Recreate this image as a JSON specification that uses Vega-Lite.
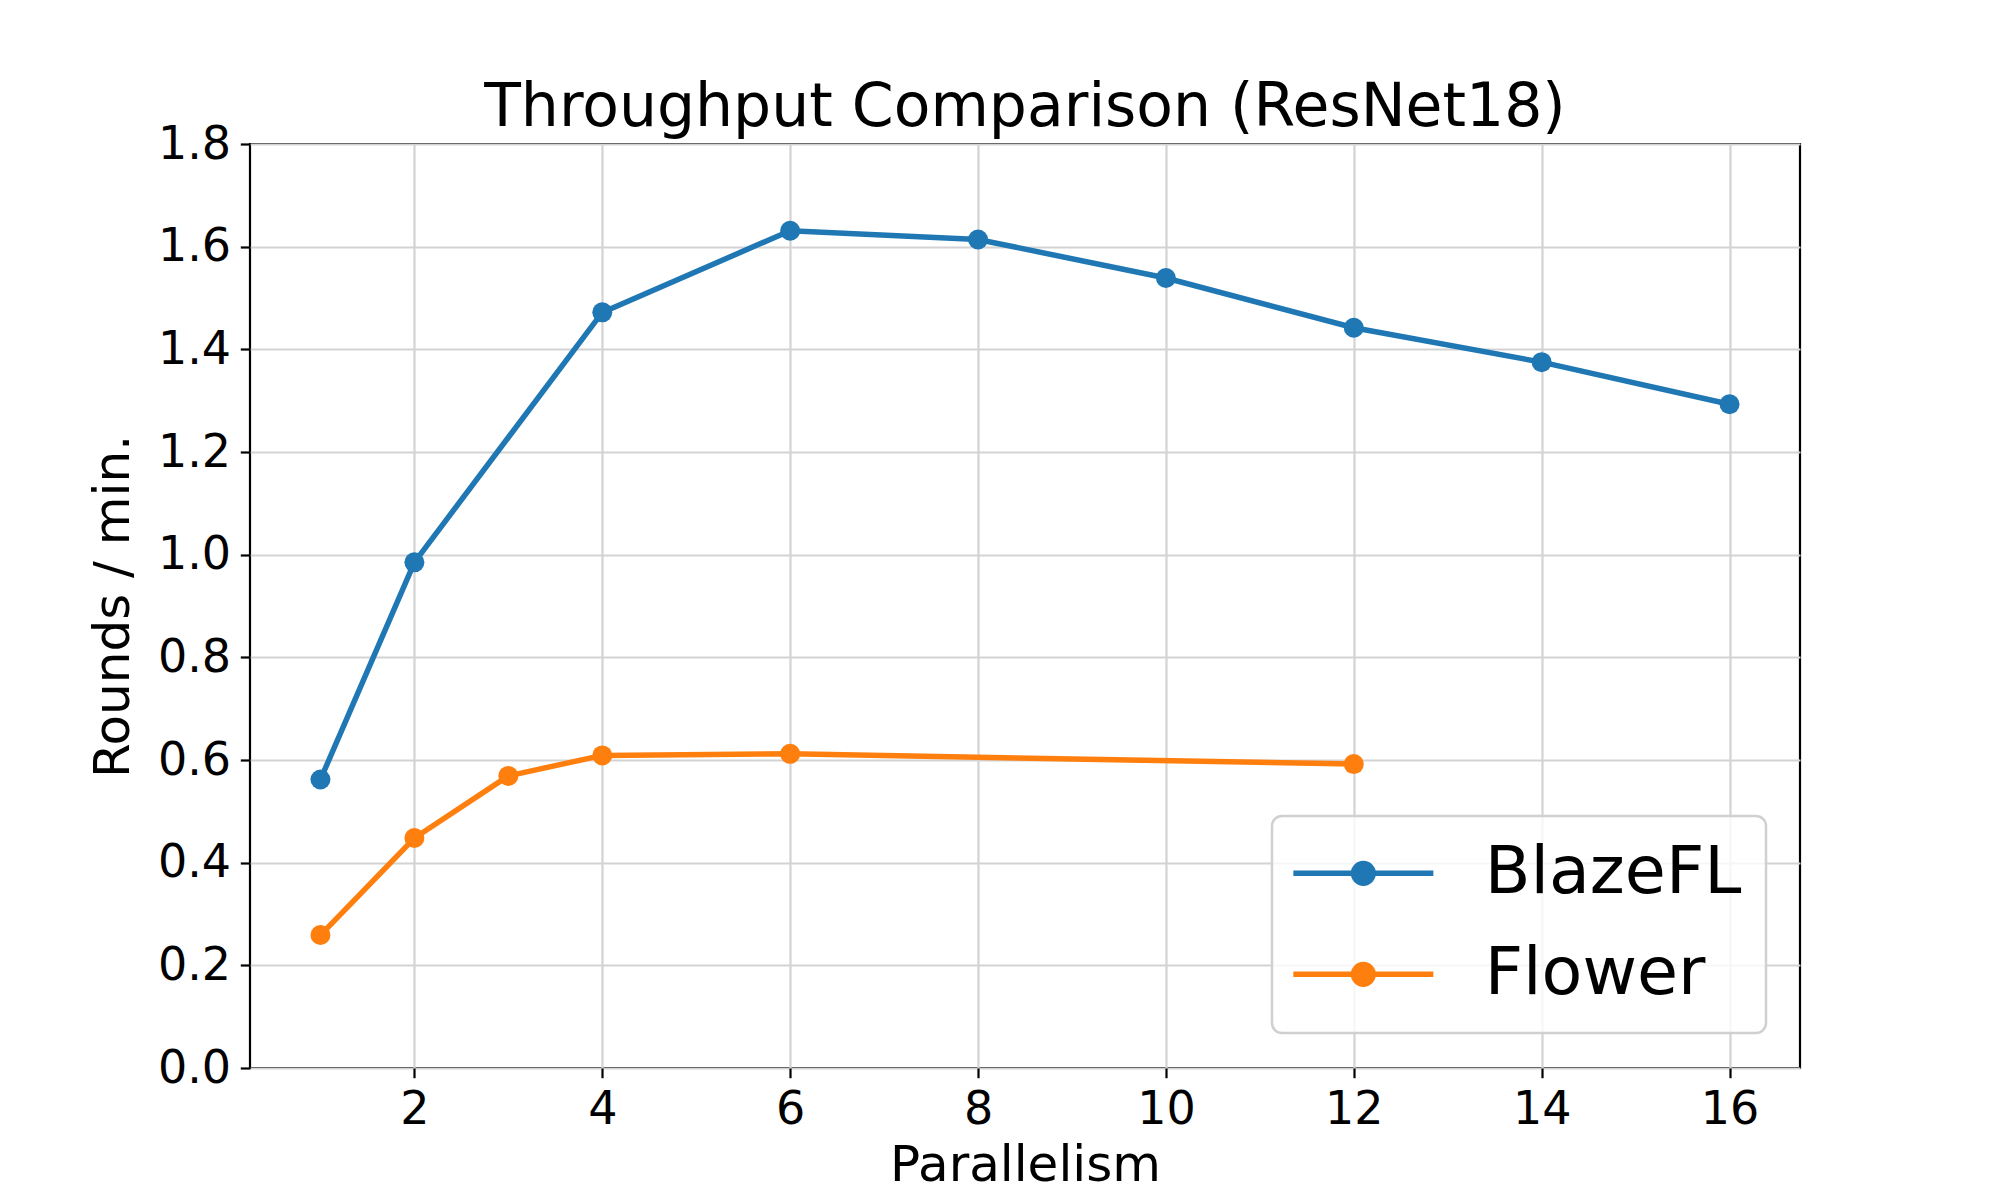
{
  "$schema": "https://vega.github.io/schema/vega-lite/v6.json",
  "width": 1550,
  "height": 924,
  "autosize": {"type": "none"},
  "padding": {"left": 250, "top": 144, "right": 200, "bottom": 132},
  "background": "white",
  "title": {
    "text": "Throughput Comparison (ResNet18)",
    "font": "DejaVu Sans",
    "fontSize": 60,
    "fontWeight": "normal",
    "color": "black",
    "anchor": "middle",
    "baseline": "alphabetic",
    "offset": 17,
    "dy": 82
  },
  "config": {
    "view": {"stroke": "black", "strokeWidth": 2.2},
    "axis": {
      "labelFont": "DejaVu Sans",
      "titleFont": "DejaVu Sans",
      "labelColor": "black",
      "titleColor": "black",
      "titleFontWeight": "normal",
      "gridColor": "#d3d3d3",
      "gridWidth": 2.2,
      "domain": false,
      "tickColor": "black",
      "tickWidth": 2.2,
      "tickSize": 9.7,
      "labelPadding": 9.7
    }
  },
  "data": {
    "values": [
      {"p": 1, "v": 0.562, "s": "BlazeFL"},
      {"p": 2, "v": 0.985, "s": "BlazeFL"},
      {"p": 4, "v": 1.472, "s": "BlazeFL"},
      {"p": 6, "v": 1.631, "s": "BlazeFL"},
      {"p": 8, "v": 1.614, "s": "BlazeFL"},
      {"p": 10, "v": 1.539, "s": "BlazeFL"},
      {"p": 12, "v": 1.442, "s": "BlazeFL"},
      {"p": 14, "v": 1.375, "s": "BlazeFL"},
      {"p": 16, "v": 1.293, "s": "BlazeFL"},
      {"p": 1, "v": 0.259, "s": "Flower"},
      {"p": 2, "v": 0.448, "s": "Flower"},
      {"p": 3, "v": 0.569, "s": "Flower"},
      {"p": 4, "v": 0.609, "s": "Flower"},
      {"p": 6, "v": 0.612, "s": "Flower"},
      {"p": 12, "v": 0.592, "s": "Flower"}
    ]
  },
  "encoding": {
    "x": {
      "field": "p",
      "type": "quantitative",
      "title": "Parallelism",
      "scale": {"domain": [0.25, 16.75], "nice": false, "zero": false},
      "axis": {"values": [2, 4, 6, 8, 10, 12, 14, 16], "labelFontSize": 46, "titleFontSize": 50, "titlePadding": 8}
    },
    "y": {
      "field": "v",
      "type": "quantitative",
      "title": "Rounds / min.",
      "scale": {"domain": [0, 1.8], "nice": false},
      "axis": {"values": [0, 0.2, 0.4, 0.6, 0.8, 1.0, 1.2, 1.4, 1.6, 1.8], "format": ".1f", "labelFontSize": 46, "titleFontSize": 50, "titlePadding": 19}
    },
    "color": {
      "field": "s",
      "type": "nominal",
      "scale": {"domain": ["BlazeFL", "Flower"], "range": ["#1f77b4", "#ff7f0e"]},
      "legend": {
        "title": null,
        "orient": "none",
        "legendX": 1022,
        "legendY": 672,
        "labelFont": "DejaVu Sans",
        "labelFontSize": 66.7,
        "labelColor": "black",
        "labelLimit": 0,
        "symbolType": "M-3.5,0L3.5,0M0.49,0A0.49,0.49,0,1,1,-0.49,0A0.49,0.49,0,1,1,0.49,0Z",
        "symbolSize": 1600,
        "symbolStrokeWidth": 5.5,
        "symbolOffset": 34,
        "labelOffset": 88,
        "rowPadding": 33,
        "padding": 24,
        "strokeColor": "#d0d0d0",
        "fillColor": "rgba(255,255,255,0.8)",
        "cornerRadius": 10,
        "encode": {
          "symbols": {
            "update": {
              "fill": {"scale": "color", "field": "value"},
              "stroke": {"scale": "color", "field": "value"},
              "fillOpacity": {"value": 1},
              "strokeWidth": {"value": 5.5}
            }
          },
          "legend": {"update": {"strokeWidth": {"value": 2.5}}}
        }
      }
    }
  },
  "layer": [
    {"mark": {"type": "line", "strokeWidth": 5.5}},
    {"mark": {"type": "point", "filled": true, "size": 400, "opacity": 1, "shape": "circle"}}
  ]
}
